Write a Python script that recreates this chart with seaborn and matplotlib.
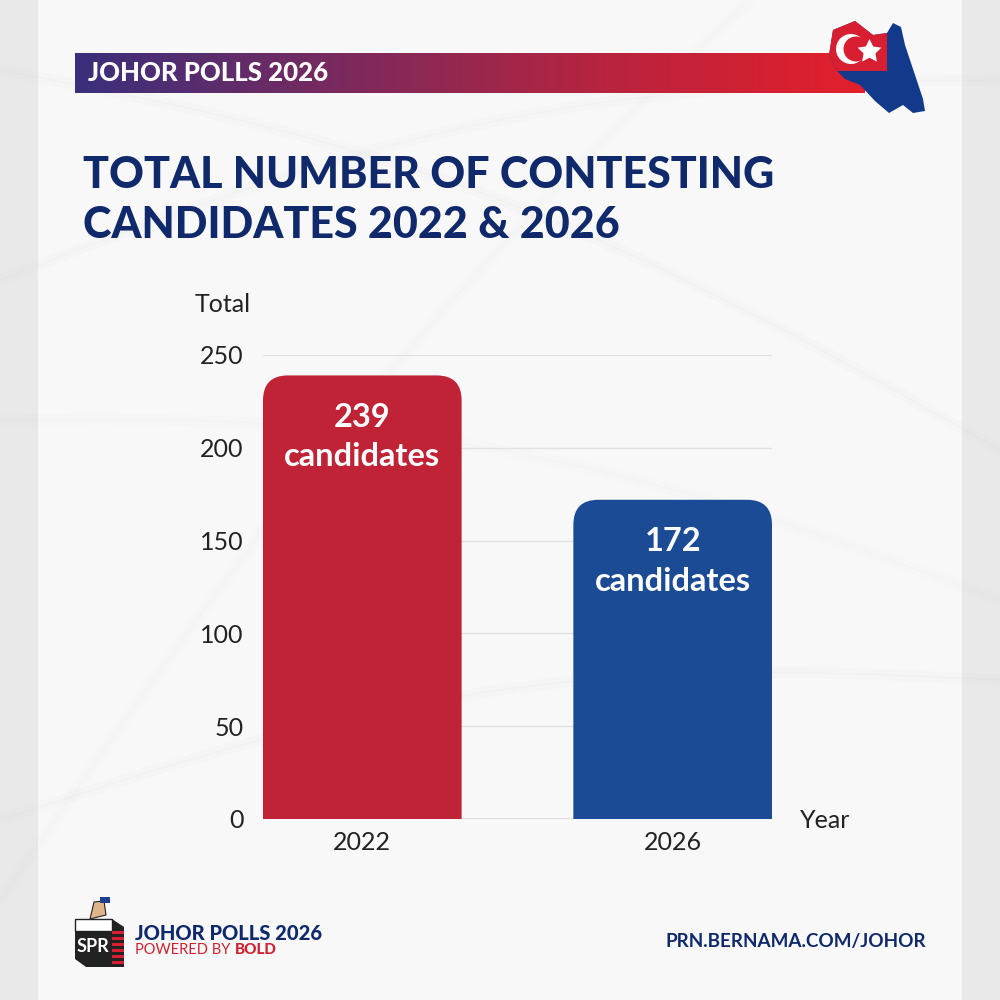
import numpy as np
import pandas as pd
import matplotlib
matplotlib.use("Agg")
import matplotlib.pyplot as plt
import seaborn as sns
from matplotlib.patches import FancyBboxPatch, Rectangle, Polygon, Circle
from matplotlib.colors import LinearSegmentedColormap

# ---- data ----
years = ["2022", "2026"]
totals = [239, 172]
bar_colors = ["#c02336", "#1c4b96"]
y_ticks = [0, 50, 100, 150, 200, 250]
title_text = "TOTAL NUMBER OF CONTESTING\nCANDIDATES 2022 & 2026"
header_text = "JOHOR POLLS 2026"

NAVY = "#10296b"

sns.set_theme(style="white")
plt.rcParams["font.family"] = ["Lato", "DejaVu Sans"]

fig = plt.figure(figsize=(10, 10), dpi=100)
fig.patch.set_facecolor("#e9e9e9")

# background panel
bg = fig.add_axes([0, 0, 1, 1], zorder=-10)
bg.set_xlim(0, 1); bg.set_ylim(0, 1); bg.axis("off")
bg.add_patch(Rectangle((0.038, 0), 0.924, 1, facecolor="#f8f8f8", edgecolor="none"))
# faint decorative swooshes
t = np.linspace(0, 1, 200)
for (a, b, c, d, al) in [(0.0, 0.93, 1.0, 0.55, 0.06), (0.0, 0.72, 1.0, 0.92, 0.05),
                         (0.0, 0.18, 1.0, 0.32, 0.06), (0.0, 0.10, 0.75, 1.0, 0.04),
                         (0.0, 0.58, 1.0, 0.40, 0.04)]:
    xs = a + (c - a) * t
    ys = b + (d - b) * t + 0.06 * np.sin(np.pi * t)
    bg.plot(xs, ys, color="#c8c8c8", lw=8, alpha=al, solid_capstyle="round")
    bg.plot(xs, ys, color="#b0b0b0", lw=0.5, alpha=al * 1.5)

# header gradient bar
hax = fig.add_axes([0.075, 1 - 0.093, 0.79, 0.040], zorder=1)
grad = np.linspace(0, 1, 256).reshape(1, -1)
cmap = LinearSegmentedColormap.from_list("hdr", ["#3a2f7c", "#7a2a5e", "#b7243f", "#e41f2b"])
hax.imshow(grad, aspect="auto", cmap=cmap, extent=[0, 1, 0, 1])
hax.axis("off")
fig.text(0.088, 1 - 0.073, header_text, color="white", fontsize=18.5, fontweight="black",
         va="center", ha="left", zorder=3)

# Johor map-flag icon (decoration)
iax = fig.add_axes([0.815, 0.885, 0.115, 0.10], zorder=2)
iax.set_xlim(0, 115); iax.set_ylim(100, 0); iax.axis("off")
blue_shape = [(18, 15), (40, 6), (58, 20), (72, 18), (78, 8), (86, 12), (90, 30), (96, 48),
              (102, 66), (108, 84), (110, 96), (98, 98), (88, 90), (74, 98), (60, 86),
              (45, 70), (30, 64), (22, 56), (14, 40)]
iax.add_patch(Polygon(blue_shape, closed=True, facecolor="#133a8a", edgecolor="none"))
red_shape = [(18, 15), (40, 6), (58, 20), (72, 18), (72, 56), (30, 56), (22, 56), (14, 40)]
iax.add_patch(Polygon(red_shape, closed=True, facecolor="#d71f31", edgecolor="none"))
iax.add_patch(Circle((36, 34), 15, facecolor="white", edgecolor="none"))
iax.add_patch(Circle((41, 34), 12.5, facecolor="#d71f31", edgecolor="none"))
iax.plot([54], [36], marker=(5, 1, 0), markersize=18, color="white", mec="none")

# title
fig.text(0.083, 1 - 0.200, title_text, color=NAVY, fontsize=31, fontweight="black",
         va="center", ha="left", linespacing=1.3)

# ---- chart ----
ax = fig.add_axes([0.263, 0.181, 0.509, 0.464])
ax.set_facecolor("none")
df = pd.DataFrame({"Year": years, "Total": totals})
sns.barplot(data=df, x="Year", y="Total", hue="Year", palette=bar_colors,
            width=0.64, legend=False, ax=ax, saturation=1)
ax.set_xlim(-0.32, 1.32)
ax.set_ylim(0, 250)
ax.set_yticks(y_ticks)
ax.set_yticklabels([str(v) for v in y_ticks])
ax.set_xlabel(""); ax.set_ylabel("")
for s in ax.spines.values():
    s.set_visible(False)
ax.grid(axis="y", color="#e2e2e2", lw=1)
ax.set_axisbelow(True)
ax.axhline(0, color="#d6d6d6", lw=1.2, zorder=0.5)
ax.tick_params(axis="y", length=0, pad=14, labelsize=18, labelcolor="#222222")
ax.tick_params(axis="x", length=0, pad=9, labelsize=18, labelcolor="#222222")

# rounded top corners
fig.canvas.draw()
px_per_x = ax.bbox.width / (1.32 + 0.32)
px_per_y = ax.bbox.height / 250
r_px = 25
rx = r_px / px_per_x
ry = r_px / px_per_y
for p in list(ax.patches):
    x0, w, h = p.get_x(), p.get_width(), p.get_height()
    col = p.get_facecolor()
    p.set_visible(False)
    fb = FancyBboxPatch((x0, -3 * ry), w, h + 3 * ry,
                        boxstyle=f"round,pad=0,rounding_size={rx}",
                        mutation_aspect=ry / rx, facecolor=col, edgecolor="none",
                        zorder=2, clip_on=True)
    ax.add_patch(fb)

for i, v in enumerate(totals):
    ax.annotate(str(v), (i, v), xytext=(0, -30), textcoords="offset points",
                ha="center", va="center", color="white", fontsize=23.5, fontweight="bold")
    ax.annotate("candidates", (i, v), xytext=(0, -58.5), textcoords="offset points",
                ha="center", va="center", color="white", fontsize=23.5, fontweight="bold")

fig.text(0.223, 1 - 0.305, "Total", fontsize=18, color="#222222", ha="center", va="center")
fig.text(0.825, 1 - 0.821, "Year", fontsize=18, color="#222222", ha="center", va="center")

# footer
lax = fig.add_axes([0.072, 0.028, 0.058, 0.075], zorder=2)
lax.set_xlim(0, 58); lax.set_ylim(75, 0); lax.axis("off")
lax.add_patch(Polygon([(3, 22), (40, 22), (52, 30), (52, 70), (14, 70), (3, 62)], closed=True,
                      facecolor="#222222", edgecolor="none"))
lax.add_patch(Polygon([(3, 22), (40, 22), (40, 34), (3, 34)], closed=True,
                      facecolor="white", edgecolor="#222222", lw=1))
for k in range(6):
    lax.add_patch(Rectangle((40, 34 + k * 6), 12, 3, facecolor="#d71f31", edgecolor="none"))
lax.add_patch(Polygon([(18, 22), (22, 5), (32, 4), (34, 18)], closed=True,
                      facecolor="#e0b48a", edgecolor="#222222", lw=0.8))
lax.add_patch(Rectangle((28, 0), 10, 6, facecolor="#1c3f8f", edgecolor="none"))
lax.text(21, 50, "SPR", color="white", fontsize=13, fontweight="bold", ha="center", va="center")

fig.text(0.135, 1 - 0.933, "JOHOR POLLS 2026", color=NAVY, fontsize=14.5, fontweight="black",
         ha="left", va="center")
pw = fig.text(0.135, 1 - 0.950, "POWERED BY", color="#d0202f", fontsize=10.5,
              ha="left", va="center")
fig.canvas.draw()
bb = pw.get_window_extent()
x_bold = (bb.x1 + 4) / fig.bbox.width
fig.text(x_bold, 1 - 0.950, "BOLD", color="#d0202f", fontsize=11, fontweight="black",
         ha="left", va="center")
fig.text(0.926, 1 - 0.942, "PRN.BERNAMA.COM/JOHOR", color=NAVY, fontsize=13.6,
         fontweight="bold", ha="right", va="center")

fig.savefig("out.png", dpi=100, facecolor=fig.get_facecolor())
